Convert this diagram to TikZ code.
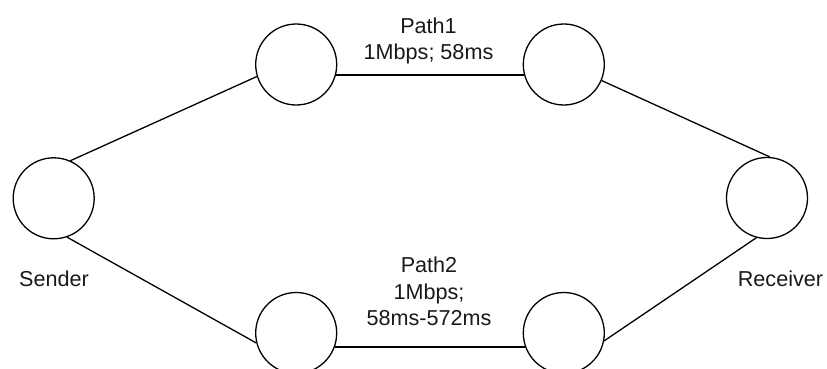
\documentclass[tikz,border=0pt]{standalone}
\usepackage{fontspec}
\setmainfont{Liberation Sans}
\begin{document}
\begin{tikzpicture}[x=1pt,y=-1pt,
  hop/.style={circle,draw=black,line width=1.3pt,minimum size=81pt,inner sep=0pt},
  link/.style={draw=black,line width=1.3pt},
  lbl/.style={font=\fontsize{21.6}{26.5}\selectfont,inner sep=0pt,align=center,text=black!90}]
  \useasboundingbox (0,0) rectangle (827,369);

  % end hosts and intermediate hops
  \node[hop] (sender)   at (53.7,198.3) {};
  \node[hop] (receiver) at (767,198)    {};
  \node[hop] (tl) at (296.2,64.5) {};
  \node[hop] (tr) at (563.8,64.5) {};
  \node[hop] (bl) at (296.2,333)  {};
  \node[hop] (br) at (563.8,333)  {};

  % path 1 (upper)
  \draw[link] (sender.66.6) -- (tl.197);
  \draw[link] (tl.-15) -- (tr.195);
  \draw[link] (tr.-23) -- (receiver.86);

  % path 2 (lower)
  \draw[link] (sender.-71) -- (bl.194.6);
  \draw[link] (bl.-20.7) -- (br.200.7);
  \draw[link] (br.-11) -- (receiver.255);

  % labels
  \node[lbl,anchor=base] (sl) at (54,286) {Sender};
  \node[lbl,anchor=base] (rl) at (780.5,286.5) {Receiver};
  \node[lbl,anchor=north] (p1) at (428.5,17.5) {Path1\\1Mbps; 58ms};
  \node[lbl,anchor=north] (p2) at (429,257) {Path2\\1Mbps;\\58ms-572ms};
\end{tikzpicture}
\end{document}
